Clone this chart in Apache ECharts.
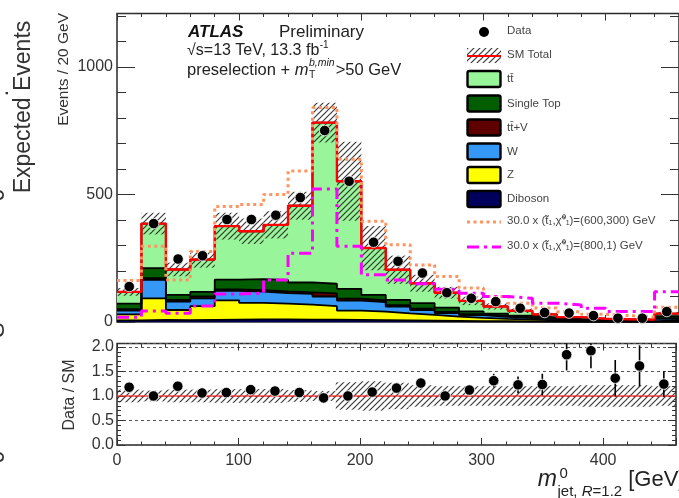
<!DOCTYPE html>
<html>
<head>
<meta charset="utf-8">
<script src="https://cdn.jsdelivr.net/npm/echarts@6/dist/echarts.min.js"></script>
<style>
  html, body { margin: 0; padding: 0; background: #ffffff; }
  #chart { width: 679px; height: 498px; }
</style>
</head>
<body>
<div id="chart"></div>
<script>
// ---- histogram binning (20 GeV bins) ----
const binEdges   = [0, 20, 40, 60, 80, 100, 120, 140, 160, 180, 200, 220, 240, 260, 280, 300, 320, 340, 360, 380, 400, 420, 440, 460];
const binCenters = [10, 30, 50, 70, 90, 110, 130, 150, 170, 190, 210, 230, 250, 270, 290, 310, 330, 350, 370, 390, 410, 430, 450];

// ---- SM background components (events / bin) ----
const ttbar     = [46, 175, 100, 127, 210, 188, 216, 301, 632, 422, 184, 118, 78, 59, 41, 28, 19, 12, 7, 5, 3, 3.3, 10];
const singleTop = [22, 39, 19, 18, 38, 43, 45, 39, 38, 38, 21, 21, 22, 16, 11, 9, 7, 5, 3, 2, 2, 1, 8];
const ttV       = [5, 7, 7, 7, 6, 6, 7, 6, 12, 8, 7, 6, 5, 5, 4, 4, 3, 2, 2, 1, 1, 1, 3];
const wjets     = [15, 72, 33, 31, 37, 44, 41, 42, 38, 39, 37, 26, 19, 14, 11, 8, 6, 5, 3, 2, 2, 2, 5];
const zjets     = [24, 85, 40, 54, 76, 65, 62, 59, 53, 37, 34, 28, 23, 17, 13, 9, 7, 4, 3, 2, 2, 1, 5];
const diboson   = [6, 8, 7, 8, 9, 10, 10, 9, 9, 8, 7, 6, 5, 4, 3, 3, 2, 2, 1, 1, 1, 1, 2];

// relative SM uncertainty per bin
const smRelUnc  = [0.13, 0.11, 0.13, 0.13, 0.14, 0.14, 0.14, 0.12, 0.10, 0.28, 0.30, 0.27, 0.22, 0.20, 0.20, 0.20, 0.20, 0.20, 0.20, 0.22, 0.22, 0.22, 0.20];

// ---- observed data ----
const dataCounts = [139, 386, 247, 260, 402, 402, 419, 488, 751, 552, 313, 238, 192, 115, 93, 80, 54, 37, 35, 25, 15, 15, 41];
// statistical error on Data / SM
const ratioErr   = [0.09, 0.05, 0.08, 0.07, 0.06, 0.06, 0.06, 0.05, 0.04, 0.04, 0.06, 0.08, 0.09, 0.09, 0.10, 0.14, 0.17, 0.22, 0.32, 0.36, 0.37, 0.42, 0.26];

// ---- signal benchmarks, scaled x30 ----
const sig600_300 = [163, 297, 165, 277, 453, 461, 500, 592, 841, 638, 395, 303, 224, 178, 133, 100, 74, 55, 40, 30, 25, 20, 58];
const sig800_1   = [19, 43, 34, 63, 110, 113, 165, 270, 522, 297, 185, 165, 150, 128, 113, 100, 93, 74, 67, 54, 41, 41, 119];

// ---- axis ticks ----
const mainYLabels  = [0, 500, 1000];
const ratioYLabels = [0, 0.5, 1.0, 1.5, 2.0];
const xLabels      = [0, 100, 200, 300, 400];

const FONT = "'Liberation Sans', Arial, Helvetica, sans-serif";
const AXIS_COL = '#333333';

// bottom -> top stacking order
const layers = [
  { name: 'Diboson',    vals: diboson,   color: '#00005c' },
  { name: 'Z',          vals: zjets,     color: '#ffff00' },
  { name: 'W',          vals: wjets,     color: '#3597f6' },
  { name: 'tt\u0304+V', vals: ttV,       color: '#5e0000' },
  { name: 'Single Top', vals: singleTop, color: '#005e00' },
  { name: 'tt\u0304',   vals: ttbar,     color: '#99f599' }
];

// cumulative tops of the stack
const cumTops = [];
layers.forEach((l, k) => {
  cumTops.push(l.vals.map((v, i) => v + (k > 0 ? cumTops[k - 1][i] : 0)));
});
const smTotal = cumTops[cumTops.length - 1];
const ratio   = binCenters.map((_, i) => dataCounts[i] / smTotal[i]);

// histogram as step points on the bin edges (last value repeated on the closing edge)
function stepPoints(vals) {
  return binEdges.map((e, i) => [e, vals[Math.min(i, vals.length - 1)]]);
}

// diagonal hatch used for the SM uncertainty
function hatchCanvas() {
  const c = document.createElement('canvas');
  c.width = 6; c.height = 6;
  const g = c.getContext('2d');
  g.strokeStyle = 'rgba(35,35,35,0.9)';
  g.lineWidth = 1.2;
  g.beginPath();
  g.moveTo(0, 6); g.lineTo(6, 0);
  g.moveTo(-1, 1); g.lineTo(1, -1);
  g.moveTo(5, 7); g.lineTo(7, 5);
  g.stroke();
  return c;
}
const hatch = { image: hatchCanvas(), repeat: 'repeat' };

// ---- axes ----
function xAxis(grid, pos, interval, len, label) {
  return {
    type: 'value', gridIndex: grid, position: pos, min: 0, max: 460, interval: interval,
    axisLine: { show: false, onZero: false },
    splitLine: { show: false },
    axisTick: { show: true, inside: true, length: len, lineStyle: { color: AXIS_COL, width: 1 } },
    axisLabel: label || { show: false }
  };
}
function yAxis(grid, pos, min, max, interval, len, label, split) {
  return {
    type: 'value', gridIndex: grid, position: pos, min: min, max: max, interval: interval,
    axisLine: { show: false, onZero: false },
    splitLine: split || { show: false },
    axisTick: { show: true, inside: true, length: len, lineStyle: { color: AXIS_COL, width: 1 } },
    axisLabel: label || { show: false }
  };
}

const xAxes = [
  xAxis(0, 'bottom', 100, 7), xAxis(0, 'bottom', 20, 3.5),
  xAxis(0, 'top', 100, 7),    xAxis(0, 'top', 20, 3.5),
  xAxis(1, 'bottom', 100, 7, {
    show: true, margin: 8, color: AXIS_COL, fontFamily: FONT, fontSize: 16,
    formatter: v => (xLabels.indexOf(v) >= 0 ? String(v) : '')
  }),
  xAxis(1, 'bottom', 20, 3.5),
  xAxis(1, 'top', 100, 7),    xAxis(1, 'top', 20, 3.5)
];

const yAxes = [
  yAxis(0, 'left', 0, 1210, 500, 18, {
    show: true, margin: 4, color: AXIS_COL, fontFamily: FONT, fontSize: 16,
    formatter: v => (mainYLabels.indexOf(v) >= 0 ? String(v) : '')
  }),
  yAxis(0, 'left', 0, 1210, 100, 9),
  yAxis(0, 'right', 0, 1210, 500, 18),
  yAxis(0, 'right', 0, 1210, 100, 9),
  yAxis(1, 'left', 0, 2.07, 0.5, 8, {
    show: true, margin: 3, color: AXIS_COL, fontFamily: FONT, fontSize: 16,
    formatter: v => {
      const hit = ratioYLabels.some(t => Math.abs(t - v) < 1e-6);
      return hit ? v.toFixed(1) : '';
    }
  }, { show: true, lineStyle: { color: '#555', width: 1, type: [3, 3] } }),
  yAxis(1, 'left', 0, 2.07, 0.1, 4),
  yAxis(1, 'right', 0, 2.07, 0.5, 8),
  yAxis(1, 'right', 0, 2.07, 0.1, 4)
];

// hatched band between lo[i] and hi[i] for each bin
function bandSeries(xi, yi, lo, hi, z) {
  return {
    type: 'custom', xAxisIndex: xi, yAxisIndex: yi, z: z, silent: true,
    data: binCenters.map((c, i) => [binEdges[i], binEdges[i + 1], lo[i], hi[i]]),
    encode: { x: [0, 1], y: [2, 3] },
    renderItem: function (params, api) {
      const p1 = api.coord([api.value(0), api.value(3)]);
      const p2 = api.coord([api.value(1), api.value(2)]);
      const cs = params.coordSys;
      const rect = echarts.graphic.clipRectByRect(
        { x: p1[0], y: p1[1], width: p2[0] - p1[0], height: p2[1] - p1[1] },
        { x: cs.x, y: cs.y, width: cs.width, height: cs.height });
      if (!rect) return;
      return { type: 'rect', shape: rect, style: { fill: hatch } };
    }
  };
}

// ---- series ----
const series = [];

// stacked backgrounds: each cumulative top filled down to zero, lower layers painted over higher ones
for (let k = layers.length - 1; k >= 0; k--) {
  series.push({
    type: 'line', name: layers[k].name, xAxisIndex: 0, yAxisIndex: 0, step: 'end',
    data: stepPoints(cumTops[k]), symbol: 'none', silent: true, z: 2 + (layers.length - 1 - k) * 0.01,
    lineStyle: { width: 0 }, areaStyle: { color: layers[k].color, opacity: 1, origin: 'start' }
  });
}
// black outlines of each stacked layer
for (let k = 0; k < layers.length; k++) {
  series.push({
    type: 'line', xAxisIndex: 0, yAxisIndex: 0, step: 'end',
    data: stepPoints(cumTops[k]), symbol: 'none', silent: true, z: 3,
    lineStyle: { color: '#000', width: 1.8 }
  });
}

// SM uncertainty band (hatched) in the main panel
series.push(bandSeries(0, 0,
  smTotal.map((t, i) => t * (1 - smRelUnc[i])),
  smTotal.map((t, i) => t * (1 + smRelUnc[i])), 4));

// SM total
series.push({
  type: 'line', xAxisIndex: 0, yAxisIndex: 0, step: 'end', z: 5, silent: true,
  data: stepPoints(smTotal), symbol: 'none', lineStyle: { color: '#ff0000', width: 2.4 }
});

// signals
series.push({
  type: 'line', xAxisIndex: 0, yAxisIndex: 0, step: 'end', z: 6, silent: true,
  data: stepPoints(sig600_300), symbol: 'none',
  lineStyle: { color: '#ff9460', width: 3, type: [3, 3.5] }
});
series.push({
  type: 'line', xAxisIndex: 0, yAxisIndex: 0, step: 'end', z: 6, silent: true,
  data: stepPoints(sig800_1), symbol: 'none',
  lineStyle: { color: '#ff00ff', width: 3, type: [12, 5, 3, 5] }
});

// data points
series.push({
  type: 'scatter', xAxisIndex: 0, yAxisIndex: 0, z: 8, silent: true,
  data: binCenters.map((c, i) => [c, dataCounts[i]]),
  symbol: 'circle', symbolSize: 10.5,
  itemStyle: { color: '#000', borderColor: '#ffffff', borderWidth: 0.8, opacity: 1 }
});

// ---- ratio panel ----
series.push(bandSeries(4, 4, smRelUnc.map(r => 1 - r), smRelUnc.map(r => 1 + r), 3));
series.push({
  type: 'line', xAxisIndex: 4, yAxisIndex: 4, z: 4, silent: true, symbol: 'none',
  data: [[0, 1], [460, 1]], lineStyle: { color: 'rgba(255,40,40,0.65)', width: 2 }
});
series.push({
  type: 'custom', xAxisIndex: 4, yAxisIndex: 4, z: 6, silent: true,
  data: binCenters.map((c, i) => [c, ratio[i], ratioErr[i]]),
  encode: { x: 0, y: 1 },
  renderItem: function (params, api) {
    const x = api.value(0), y = api.value(1), e = api.value(2);
    const hi = api.coord([x, y + e]);
    const lo = api.coord([x, y - e]);
    const cs = params.coordSys;
    const y1 = Math.max(hi[1], cs.y);
    const y2 = Math.min(lo[1], cs.y + cs.height);
    return {
      type: 'line',
      shape: { x1: hi[0], y1: y1, x2: hi[0], y2: y2 },
      style: { stroke: '#000', lineWidth: 1.6 }
    };
  }
});
series.push({
  type: 'scatter', xAxisIndex: 4, yAxisIndex: 4, z: 8, silent: true,
  data: binCenters.map((c, i) => [c, ratio[i]]),
  symbol: 'circle', symbolSize: 10.5,
  itemStyle: { color: '#000', borderColor: '#ffffff', borderWidth: 0.8, opacity: 1 }
});

// ---- text measurement helper for the composed labels ----
const mctx = document.createElement('canvas').getContext('2d');
function tw(text, font) { mctx.font = font; return mctx.measureText(text).width; }

const graphics = [];
function txt(text, x, y, font, opts) {
  const o = Object.assign({ fill: '#222', align: 'left', verticalAlign: 'middle', rotation: 0 }, opts || {});
  graphics.push({
    type: 'text', x: x, y: y, rotation: o.rotation, silent: true, z: 100,
    style: { text: text, font: font, fill: o.fill, align: o.align, verticalAlign: o.verticalAlign }
  });
}

// axis titles
txt('Events / 20 GeV', 64, 13, `15.5px ${FONT}`, { align: 'right', rotation: Math.PI / 2, fill: '#333' });
txt('Data / SM', 70, 395, `16px ${FONT}`, { align: 'center', rotation: Math.PI / 2, fill: '#333' });
txt('Expected Events', 24, 107, `23px ${FONT}`, { align: 'center', rotation: Math.PI / 2, fill: '#333' });
// pieces of the neighbouring figure at the left edge
txt(':', 2, 93, `23px ${FONT}`, { align: 'center', rotation: Math.PI / 2, fill: '#333' });
txt('0', -2, 195, `23px ${FONT}`, { align: 'center', rotation: Math.PI / 2, fill: '#333' });
txt('S', -2, 330, `23px ${FONT}`, { align: 'center', rotation: Math.PI / 2, fill: '#333' });
txt('0', -2, 457, `23px ${FONT}`, { align: 'center', rotation: Math.PI / 2, fill: '#333' });

// ATLAS label block
txt('ATLAS', 188, 32, `italic bold 17px ${FONT}`, { fill: '#111' });
txt('Preliminary', 279, 32, `17px ${FONT}`, { fill: '#222' });
(function () {
  const f2 = `16px ${FONT}`;
  const s1 = '\u221As=13 TeV, 13.3 fb';
  txt(s1, 187, 51, f2);
  txt('-1', 187 + tw(s1, f2) + 0.5, 45, `10px ${FONT}`);
  const f = `16.5px ${FONT}`;
  const p1 = 'preselection + ';
  const fi = `italic 16.5px ${FONT}`;
  let x = 187;
  txt(p1, x, 70, f); x += tw(p1, f);
  txt('m', x, 70, fi); x += tw('m', fi) + 0.5;
  txt('b,min', x, 63, `italic 10.5px ${FONT}`);
  txt('T', x, 75.5, `10.5px ${FONT}`);
  x += tw('b,min', `italic 10.5px ${FONT}`) + 1;
  txt('>50 GeV', x, 70, f);
})();

// x-axis title, right-aligned to the frame edge
(function () {
  const fm = `italic 23px ${FONT}`, fg = `22px ${FONT}`, fs = `15px ${FONT}`, fsi = `italic 15px ${FONT}`;
  const right = 684;
  const gev = ' [GeV]';
  const subW = tw('jet, ', fs) + tw('R', fsi) + tw('=1.2', fs);
  let x = right - tw(gev, fg) - subW - tw('m', fm);
  txt('m', x, 480, fm, { fill: '#222' });
  x += tw('m', fm) + 0.5;
  txt('0', x + 2, 474, fs, { fill: '#222' });
  txt('jet, ', x, 492, fs, { fill: '#222' }); x += tw('jet, ', fs);
  txt('R', x, 492, fsi, { fill: '#222' }); x += tw('R', fsi);
  txt('=1.2', x, 492, fs, { fill: '#222' }); x += tw('=1.2', fs);
  txt(gev, x, 480, fg, { fill: '#222' });
})();

// legend
(function () {
  const lx = 467, lw = 34, tx = 507;
  const lf = `11.5px ${FONT}`;
  const lcol = '#444';
  graphics.push({ type: 'circle', shape: { cx: 484, cy: 32, r: 5 }, style: { fill: '#000' }, z: 100, silent: true });
  txt('Data', tx, 31, lf, { fill: lcol });
  graphics.push({ type: 'rect', shape: { x: lx, y: 48, width: lw, height: 15 }, style: { fill: hatch }, z: 100, silent: true });
  graphics.push({ type: 'line', shape: { x1: lx, y1: 56, x2: lx + lw, y2: 56 }, style: { stroke: '#ff0000', lineWidth: 2 }, z: 101, silent: true });
  txt('SM Total', tx, 55, lf, { fill: lcol });
  const order = [layers[5], layers[4], layers[3], layers[2], layers[1], layers[0]];
  const ys = [79, 103.5, 127.5, 151.5, 175, 199];
  order.forEach((l, k) => {
    graphics.push({
      type: 'rect', shape: { x: lx + 0.5, y: ys[k] - 8, width: lw - 1, height: 16, r: 2 },
      style: { fill: l.color, stroke: '#000', lineWidth: 2.4 }, z: 100, silent: true
    });
    txt(l.name, tx, ys[k], lf, { fill: lcol });
  });
  graphics.push({ type: 'line', shape: { x1: lx, y1: 222, x2: lx + lw, y2: 222 }, style: { stroke: '#ff9460', lineWidth: 3, lineDash: [3, 3.5] }, z: 100, silent: true });
  txt('30.0 x (t\u0303\u2081,\u03C7\u0303\u2070\u2081)=(600,300) GeV', tx, 221, lf, { fill: lcol });
  graphics.push({ type: 'line', shape: { x1: lx, y1: 247, x2: lx + lw, y2: 247 }, style: { stroke: '#ff00ff', lineWidth: 3, lineDash: [12, 5, 3, 5] }, z: 100, silent: true });
  txt('30.0 x (t\u0303\u2081,\u03C7\u0303\u2070\u2081)=(800,1) GeV', tx, 246, lf, { fill: lcol });
})();

const chart = echarts.init(document.getElementById('chart'), null, { renderer: 'canvas' });
chart.setOption({
  animation: false,
  backgroundColor: '#ffffff',
  grid: [
    { left: 117, top: 13.5, width: 564, height: 308.5, show: true, borderColor: '#2a2a2a', borderWidth: 1.5, backgroundColor: 'transparent', containLabel: false },
    { left: 117, top: 343.5, width: 564, height: 101.5, show: true, borderColor: '#2a2a2a', borderWidth: 1.5, backgroundColor: 'transparent', containLabel: false }
  ],
  xAxis: xAxes,
  yAxis: yAxes,
  series: series,
  graphic: { elements: graphics }
});
</script>
</body>
</html>
